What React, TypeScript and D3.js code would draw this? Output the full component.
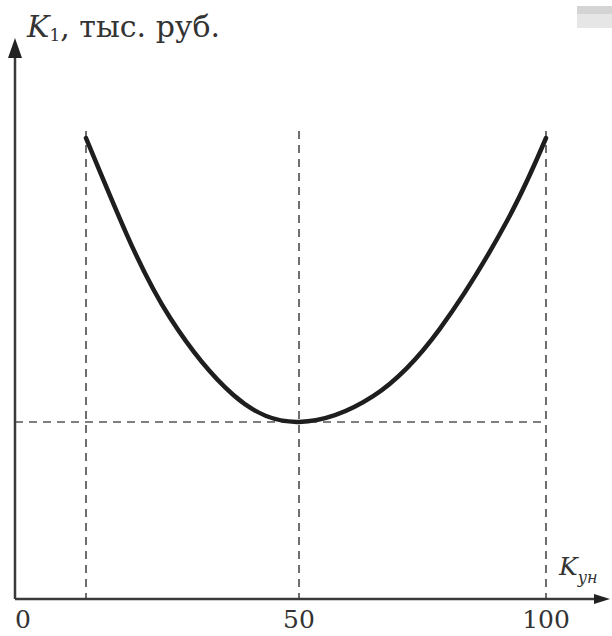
import React, { useEffect, useRef } from "react";
import * as d3 from "d3";

// K_ун values along the curve and the matching K1 (тыс. руб.) values
const kyn = [12.5, 19.7, 27.3, 38.4, 50, 65.0, 78.5, 92.1, 100];
const k1 = [100, 79.0, 61.0, 44.3, 38.4, 44.0, 58.6, 82.0, 100];
const xTicks = [0, 50, 100];
const guideX = [12.5, 50, 100];
const guideY = [38.4];

const W = 612;
const H = 636;
const FONT = "'DejaVu Serif', 'Liberation Serif', serif";

export default function App() {
  const ref = useRef<SVGSVGElement>(null);

  useEffect(() => {
    const svg = d3.select(ref.current);
    svg.selectAll("*").remove();

    const x = d3.scaleLinear().domain([0, 50, 100]).range([15, 299, 546]);
    const y = d3.scaleLinear().domain([0, 100]).range([599, 138]);
    const x0 = x(0);
    const y0 = y(0);

    // scan artifact top right
    svg.append("rect").attr("x", 577).attr("y", 6).attr("width", 35).attr("height", 8).attr("fill", "#d4d4d4");
    svg.append("rect").attr("x", 577).attr("y", 14).attr("width", 35).attr("height", 14).attr("fill", "#e6e6e6");

    // dashed guides
    const dash = svg.append("g").attr("stroke", "#222").attr("stroke-width", 1.3).attr("stroke-dasharray", "8,6");
    dash.selectAll("line.v")
      .data(guideX)
      .enter()
      .append("line")
      .attr("class", "v")
      .attr("x1", d => x(d))
      .attr("x2", d => x(d))
      .attr("y1", y(101.5))
      .attr("y2", y0);
    dash.selectAll("line.h")
      .data(guideY)
      .enter()
      .append("line")
      .attr("class", "h")
      .attr("x1", x0)
      .attr("x2", x(100))
      .attr("y1", d => y(d))
      .attr("y2", d => y(d))
      .attr("stroke", "#555");

    // axes
    const axis = svg.append("g").attr("stroke", "#3a3a3a").attr("stroke-width", 2.5);
    axis.append("line").attr("x1", x0).attr("x2", 598).attr("y1", y0).attr("y2", y0);
    axis.append("line").attr("x1", x0).attr("x2", x0).attr("y1", y0).attr("y2", 52);
    svg.append("path")
      .attr("d", `M${x0},38 L${x0 - 7},58 L${x0 + 7},58 Z`)
      .attr("fill", "#222");
    svg.append("path")
      .attr("d", `M610,${y0} L594,${y0 - 5} L594,${y0 + 5} Z`)
      .attr("fill", "#222");

    // curve
    const line = d3
      .line<number>()
      .x((d, i) => x(kyn[i]))
      .y(d => y(d))
      .curve(d3.curveNatural);
    svg.append("path")
      .datum(k1)
      .attr("d", line)
      .attr("fill", "none")
      .attr("stroke", "#1e1e1e")
      .attr("stroke-width", 4.5)
      .attr("stroke-linecap", "round");

    // tick labels
    svg.selectAll("text.tick")
      .data(xTicks)
      .enter()
      .append("text")
      .attr("class", "tick")
      .attr("x", d => (d === 0 ? 23 : x(d)))
      .attr("y", 628)
      .attr("text-anchor", "middle")
      .attr("font-family", FONT)
      .attr("font-size", 25)
      .attr("fill", "#333")
      .text(d => d);

    // axis titles
    const yt = svg.append("text")
      .attr("x", 27)
      .attr("y", 37)
      .attr("font-family", FONT)
      .attr("font-size", 30)
      .attr("fill", "#333");
    yt.append("tspan").attr("font-style", "italic").text("K");
    yt.append("tspan").attr("font-size", 17).attr("dy", 4).text("1");
    yt.append("tspan").attr("dy", -4).text(", тыс. руб.");

    const xt = svg.append("text")
      .attr("x", 559)
      .attr("y", 575)
      .attr("font-family", FONT)
      .attr("font-size", 25)
      .attr("fill", "#333");
    xt.append("tspan").attr("font-style", "italic").text("K");
    xt.append("tspan").attr("font-style", "italic").attr("font-size", 16).attr("dy", 8).text("ун");
  }, []);

  return (
    <svg
      ref={ref}
      width={W}
      height={H}
      style={{ position: "absolute", left: 0, top: 0, background: "#fff" }}
    />
  );
}
